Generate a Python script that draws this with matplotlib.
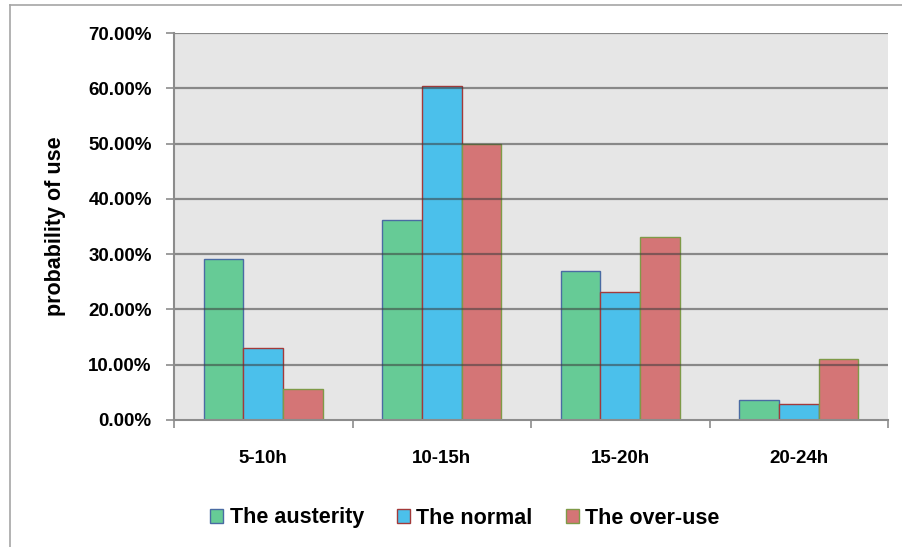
import matplotlib

matplotlib.use("Agg")

import matplotlib.pyplot as plt
import numpy as np
from matplotlib.lines import Line2D
from matplotlib.ticker import FuncFormatter, MultipleLocator

plt.rcParams["font.family"] = ["Liberation Sans", "DejaVu Sans"]
plt.rcParams["font.weight"] = "bold"

# usage probability (%) per time slot
CATEGORIES = ["5-10h", "10-15h", "15-20h", "20-24h"]
AUSTERITY = [29.1, 36.1, 26.9, 3.7]
NORMAL = [12.95, 60.4, 23.1, 2.9]
OVER_USE = [5.6, 50.0, 33.1, 11.1]

SERIES = [
    ("The austerity", AUSTERITY, "#66CB96", "#4A6BA3"),
    ("The normal", NORMAL, "#4BC0EB", "#A33A3A"),
    ("The over-use", OVER_USE, "#D47576", "#7F9A48"),
]

fig = plt.figure(figsize=(9.03, 5.47), dpi=100)
ax = fig.add_axes([174 / 903, 1 - 420 / 547, 714 / 903, 387 / 547])
ax.set_facecolor("#E6E6E6")

x = np.arange(len(CATEGORIES))
width = 1 / 4.5
for i, (label, values, face, edge) in enumerate(SERIES):
    ax.bar(
        x + (i - 1) * width,
        values,
        width=width,
        color=face,
        edgecolor=edge,
        linewidth=1.0,
        label=label,
        zorder=2,
    )

ax.set_xlim(-0.5, len(CATEGORIES) - 0.5)
ax.set_ylim(0, 70)
ax.yaxis.set_major_locator(MultipleLocator(10))
ax.yaxis.set_major_formatter(FuncFormatter(lambda v, _: f"{v:.2f}%"))

# gridlines sit over the bars, slightly transparent
for y in np.arange(10, 71, 10):
    ax.axhline(y, color="#3C3C3C", alpha=0.55, linewidth=1.6, zorder=3)

ax.set_xticks(x)
ax.set_xticklabels(CATEGORIES)
ax.set_xticks(np.arange(-0.5, len(CATEGORIES)), minor=True)
ax.tick_params(axis="x", which="major", length=0, pad=21.5, labelsize=13.5)
ax.tick_params(axis="x", which="minor", length=6, width=1.2, color="#8C8C8C")
ax.tick_params(axis="y", length=6, width=1.2, color="#8C8C8C", pad=10, labelsize=13.5)

for side in ("top", "right"):
    ax.spines[side].set_visible(False)
for side in ("left", "bottom"):
    ax.spines[side].set_color("#8C8C8C")
    ax.spines[side].set_linewidth(1.5)
    ax.spines[side].set_zorder(4)

ax.set_ylabel("probability of use", fontsize=15.5, fontweight="bold")
ax.yaxis.set_label_coords(-0.151, 0.5)

ax.legend(
    loc="center",
    bbox_to_anchor=(0.5 + (465 - 531) / 714, (420 - 518) / 387),
    ncol=3,
    frameon=False,
    fontsize=15.5,
    handlelength=0.6,
    handleheight=0.6,
    handletextpad=0.3,
    columnspacing=1.55,
)

# outer chart border (left and top edges)
bx = 10 / 903
by = 1 - 5 / 547
fig.add_artist(Line2D([bx, bx], [0, by], transform=fig.transFigure, color="#A6A6A6", linewidth=1.2))
fig.add_artist(Line2D([bx, 1], [by, by], transform=fig.transFigure, color="#A6A6A6", linewidth=1.2))

fig.savefig("out.png", dpi=100, facecolor="white")
